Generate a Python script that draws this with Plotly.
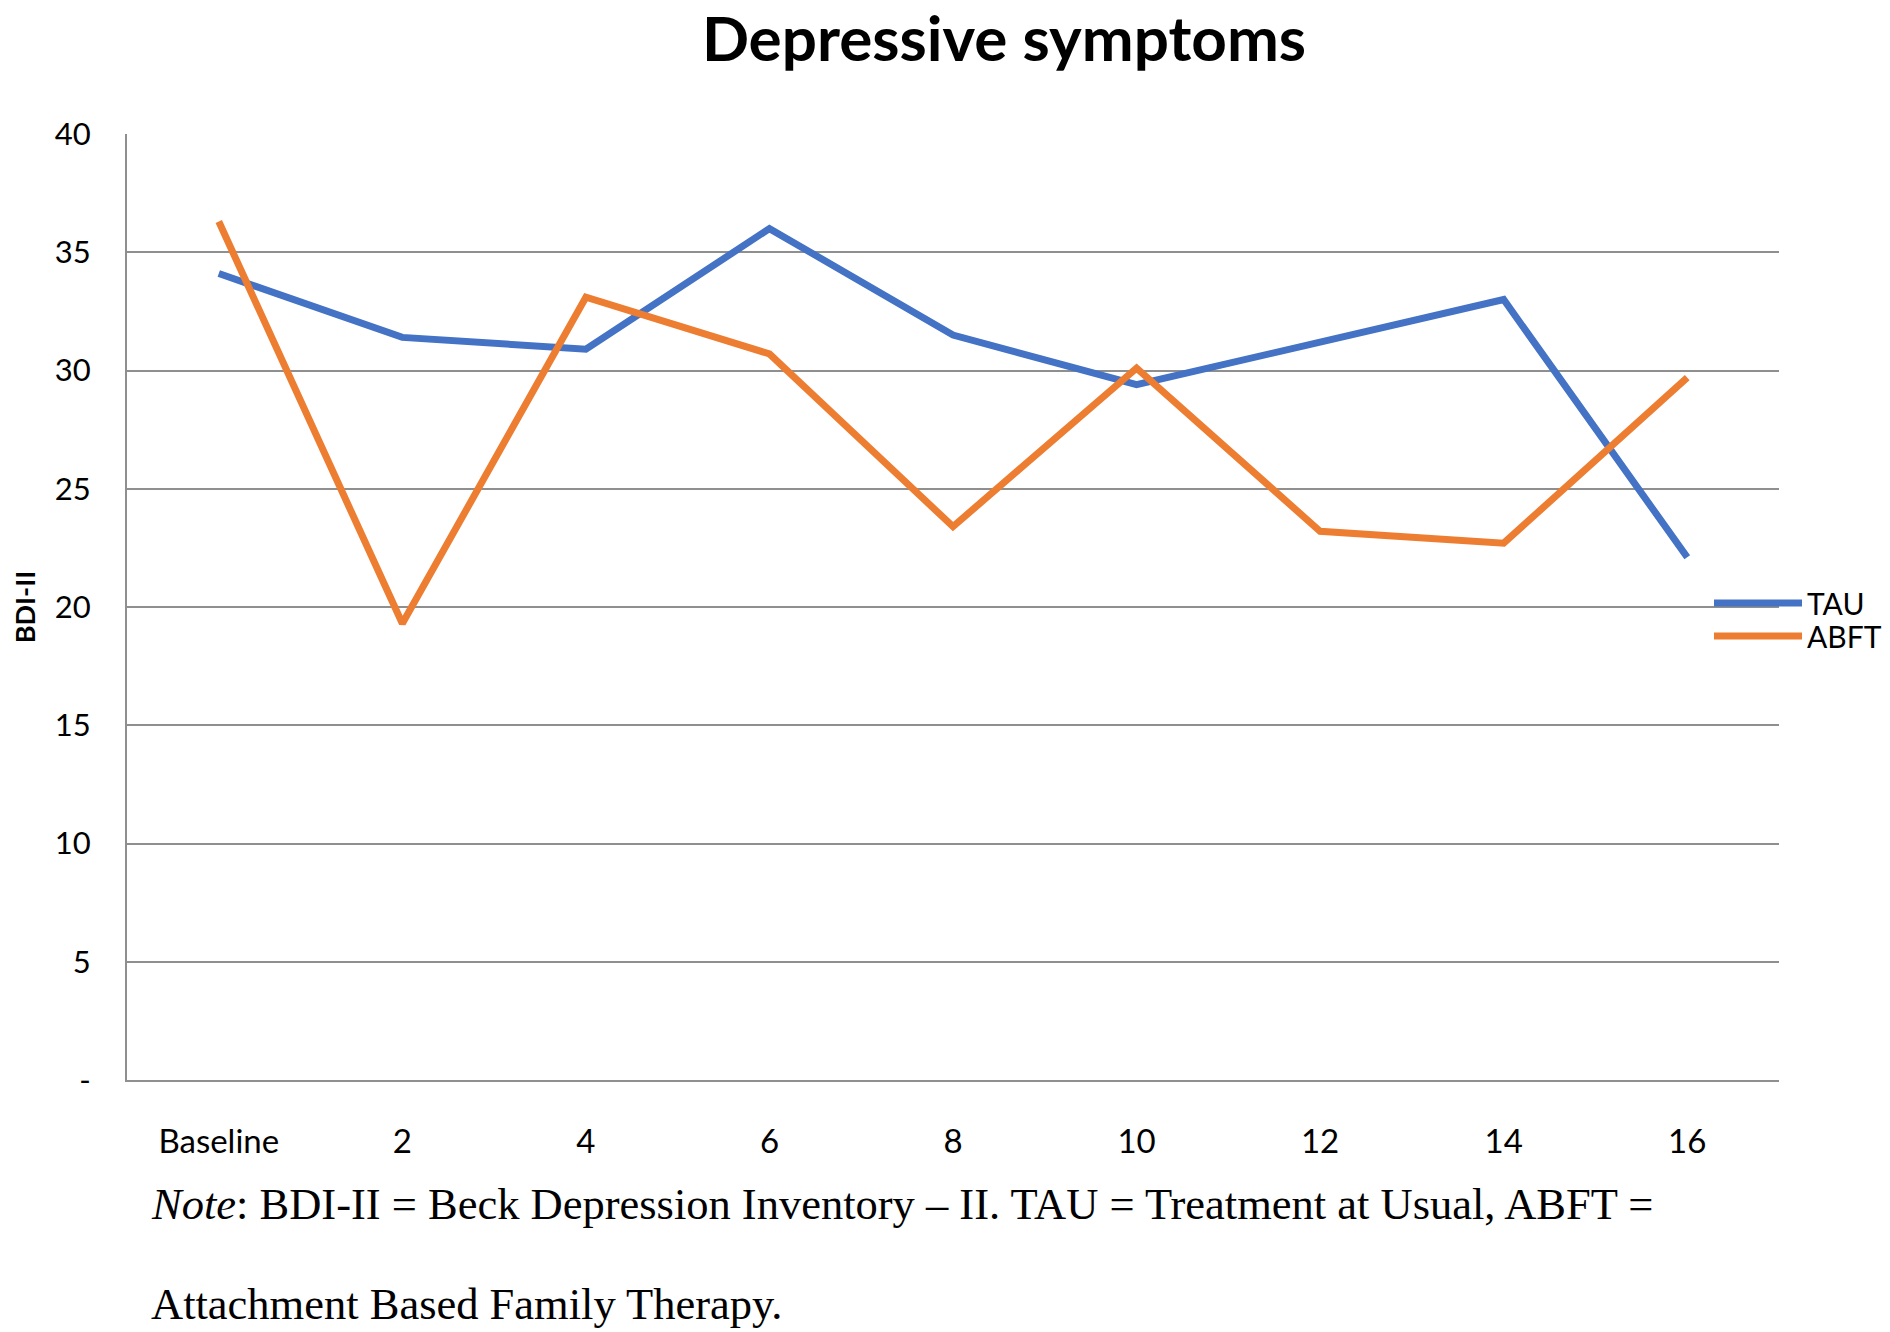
import plotly.graph_objects as go

categories = ["Baseline", "2", "4", "6", "8", "10", "12", "14", "16"]
tau = [34.1, 31.4, 30.9, 36.0, 31.5, 29.4, 31.2, 33.0, 22.1]
abft = [36.3, 19.3, 33.1, 30.7, 23.4, 30.1, 23.2, 22.7, 29.7]
y_tickvals = [0, 5, 10, 15, 20, 25, 30, 35, 40]
y_ticktext = ["-", "5", "10", "15", "20", "25", "30", "35", "40"]

# page has an 8px body margin, so the figure is drawn 8px smaller
W, H = 1882, 1324
L, R, T, B = 119, 111, 126, 252
PW, PH = W - L - R, H - T - B
SANS = "Lato, 'Open Sans', sans-serif"
SERIF = "'Liberation Serif', 'Times New Roman', serif"
GRID = "#8f8f8f"

fig = go.Figure()
fig.add_trace(go.Scatter(x=categories, y=tau, name="TAU", mode="lines",
                         line=dict(color="#4472C4", width=7), legend="legend"))
fig.add_trace(go.Scatter(x=categories, y=abft, name="ABFT", mode="lines",
                         line=dict(color="#ED7D31", width=7), legend="legend2"))

leg_common = dict(xanchor="left", yanchor="middle",
                  font=dict(family=SANS, size=30, color="black"),
                  bgcolor="rgba(0,0,0,0)", itemwidth=88)
leg_x = (1701 - L) / PW

fig.update_layout(
    width=W, height=H,
    margin=dict(l=L, r=R, t=T, b=B, autoexpand=False),
    paper_bgcolor="white", plot_bgcolor="white",
    title=dict(text="<b>Depressive symptoms</b>", x=996 / W, xanchor="center",
               y=1 - 31 / H, yanchor="middle", yref="container",
               font=dict(family=SANS, size=62, color="black")),
    showlegend=True,
    legend=dict(x=leg_x, y=(1072 - 595) / PH, **leg_common),
    legend2=dict(x=leg_x, y=(1072 - 628) / PH, **leg_common),
    xaxis=dict(type="category", range=[-0.5, 8.5], showgrid=False,
               showline=True, linecolor=GRID, linewidth=2,
               ticks="", ticklabelstandoff=31,
               tickfont=dict(family=SANS, size=33, color="black")),
    yaxis=dict(range=[0, 40], tickvals=y_tickvals, ticktext=y_ticktext,
               showgrid=True, gridcolor=GRID, gridwidth=2,
               showline=True, linecolor=GRID, linewidth=2, zeroline=False,
               ticks="", ticklabelstandoff=28,
               tickfont=dict(family=SANS, size=31, color="black")),
)
fig.update_yaxes(title=dict(text="<b>BDI-II</b>", standoff=12,
                            font=dict(family=SANS, size=27, color="black")))

note1 = "<i>Note</i>: BDI-II = Beck Depression Inventory \u2013 II. TAU = Treatment at Usual, ABFT ="
note2 = "Attachment Based Family Therapy."
for txt, py in [(note1, 1196), (note2, 1296)]:
    fig.add_annotation(text=txt, xref="paper", yref="paper",
                       x=(141 - L) / PW, xanchor="left",
                       y=(1072 - py) / PH, yanchor="middle",
                       showarrow=False,
                       font=dict(family=SERIF, size=44.5, color="black"))

fig.write_html("out.html")
